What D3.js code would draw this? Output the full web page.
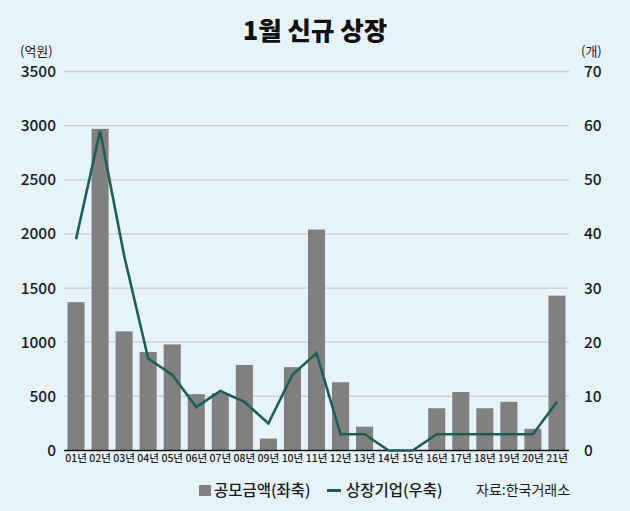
<!DOCTYPE html>
<html>
<head>
<meta charset="utf-8">
<script src="https://cdn.jsdelivr.net/npm/d3@7"></script>
<style>
  html, body { margin: 0; padding: 0; background: #e6f3fb; }
  svg { display: block; font-family: "Noto Sans CJK KR", "Noto Sans", sans-serif; }
</style>
</head>
<body>
<svg id="chart" width="630" height="511"></svg>
<script>
const years = ["01년","02년","03년","04년","05년","06년","07년","08년","09년","10년","11년","12년","13년","14년","15년","16년","17년","18년","19년","20년","21년"];
const amounts = [1370, 2970, 1100, 910, 980, 520, 530, 790, 110, 770, 2040, 630, 220, 0, 0, 390, 540, 390, 450, 200, 1430];
const companies = [39, 59, 36, 17, 14, 8, 11, 9, 5, 14, 18, 3, 3, 0, 0, 3, 3, 3, 3, 3, 9];
const leftTicks = [0, 500, 1000, 1500, 2000, 2500, 3000, 3500];
const rightTicks = [0, 10, 20, 30, 40, 50, 60, 70];

const title = "1월 신규 상장";
const leftUnit = "(억원)";
const rightUnit = "(개)";
const legendBar = "공모금액(좌축)";
const legendLine = "상장기업(우축)";
const source = "자료:한국거래소";

const barColor = "#808080";
const lineColor = "#1d5e57";
const textColor = "#1a1a1a";

const svg = d3.select("#chart");
const W = 630, H = 511;
svg.append("rect").attr("width", W).attr("height", H).attr("fill", "#e6f3fb");

const x0 = 64, x1 = 569, yTop = 71.5, yBot = 450.5;

const x = d3.scaleBand().domain(years).range([x0, x1]).paddingInner(0.29).paddingOuter(0.145);
const yL = d3.scaleLinear().domain([0, 3500]).range([yBot, yTop]);
const yR = d3.scaleLinear().domain([0, 70]).range([yBot, yTop]);

// title
svg.append("text").attr("x", 315).attr("y", 40).attr("text-anchor", "middle")
  .attr("font-size", 25.5).attr("font-weight", 900).attr("fill", "#111").text(title);

// gridlines
svg.append("g").selectAll("line").data(leftTicks.filter(d => d > 0)).join("line")
  .attr("x1", x0).attr("x2", x1)
  .attr("y1", d => yL(d)).attr("y2", d => yL(d))
  .attr("stroke", "#c9cdd0").attr("stroke-width", 1.3);

// left axis
const gL = svg.append("g").attr("transform", `translate(${x0},0)`)
  .call(d3.axisLeft(yL).tickValues(leftTicks).tickSize(0).tickPadding(8).tickFormat(d3.format("d")));
gL.select(".domain").remove();
gL.selectAll("text").attr("font-size", 15.5).attr("font-weight", 500).attr("fill", textColor).attr("font-family", "'Noto Sans CJK KR', sans-serif");

// right axis
const gR = svg.append("g").attr("transform", `translate(${x1},0)`)
  .call(d3.axisRight(yR).tickValues(rightTicks).tickSize(0).tickPadding(15).tickFormat(d3.format("d")));
gR.select(".domain").remove();
gR.selectAll("text").attr("font-size", 15.5).attr("font-weight", 500).attr("fill", textColor).attr("font-family", "'Noto Sans CJK KR', sans-serif");

// unit labels
svg.append("text").attr("x", 20).attr("y", 56).attr("font-size", 13).attr("fill", textColor).text(leftUnit);
svg.append("text").attr("x", 581).attr("y", 56).attr("font-size", 13).attr("fill", textColor).text(rightUnit);

// bars
svg.append("g").selectAll("rect").data(years).join("rect")
  .attr("x", d => x(d)).attr("width", x.bandwidth())
  .attr("y", (d, i) => yL(amounts[i])).attr("height", (d, i) => yL(0) - yL(amounts[i]))
  .attr("fill", barColor);

// bottom axis
const gB = svg.append("g").attr("transform", `translate(0,${yBot})`)
  .call(d3.axisBottom(x).tickSize(0).tickPadding(4));
gB.select(".domain").attr("stroke", "#111").attr("stroke-width", 1.6).attr("d", `M${x0},0H${x1}`);
gB.selectAll("text").attr("font-size", 10.5).attr("font-weight", 500).attr("fill", textColor).attr("font-family", "'Noto Sans CJK KR', sans-serif");

// line
const line = d3.line().x((d, i) => x(years[i]) + x.bandwidth() / 2).y(d => yR(d));
svg.append("path").datum(companies).attr("d", line)
  .attr("fill", "none").attr("stroke", lineColor).attr("stroke-width", 2.6).attr("stroke-linejoin", "miter");

// legend
const lg = svg.append("g");
lg.append("rect").attr("x", 199).attr("y", 485).attr("width", 12).attr("height", 11).attr("fill", barColor);
lg.append("text").attr("x", 214).attr("y", 496).attr("font-size", 15.5).attr("font-weight", 500).attr("fill", textColor).text(legendBar);
lg.append("line").attr("x1", 327).attr("x2", 341).attr("y1", 490.5).attr("y2", 490.5).attr("stroke", lineColor).attr("stroke-width", 3);
lg.append("text").attr("x", 346).attr("y", 496).attr("font-size", 15.5).attr("font-weight", 500).attr("fill", textColor).text(legendLine);
svg.append("text").attr("x", 476).attr("y", 495).attr("font-size", 14).attr("fill", textColor).text(source);
</script>
</body>
</html>
